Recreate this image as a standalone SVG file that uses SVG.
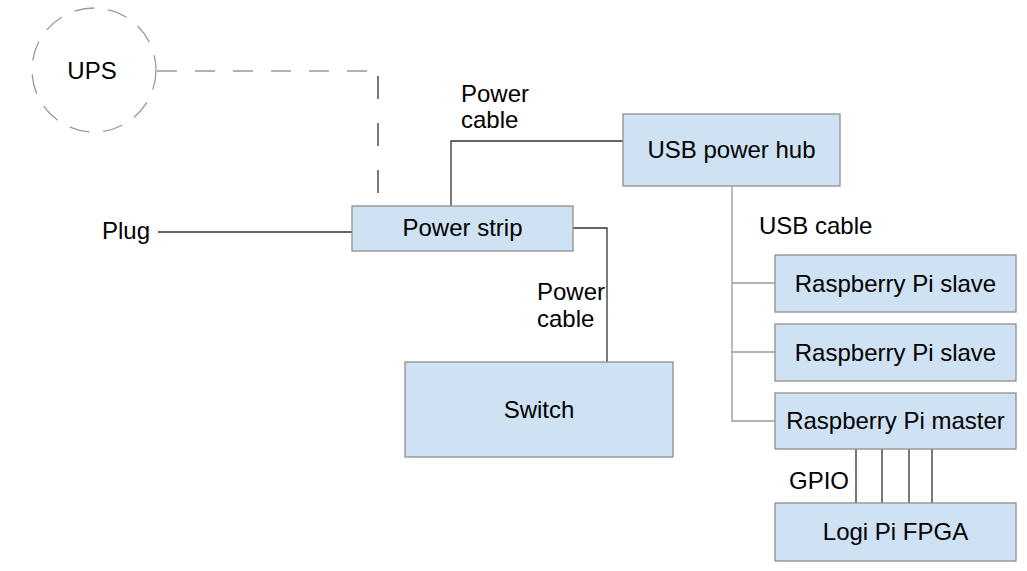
<svg xmlns="http://www.w3.org/2000/svg" width="1027" height="571" viewBox="0 0 1027 571">
<style>
.box{fill:#cfe2f3;stroke:#8f8f8f;stroke-width:1.3}
.t{font-family:"Liberation Sans",Arial,sans-serif;font-size:24px;fill:#000}
.c{text-anchor:middle}
.dk{fill:none;stroke:#333;stroke-width:1.3}
.gr{fill:none;stroke:#999;stroke-width:1.3}
</style>
<rect width="1027" height="571" fill="#fff"/>
<g id="connectors">
<path class="gr" d="M157,71 H378" stroke-dasharray="20 18"/>
<path class="dk" d="M378,76 V206" stroke-dasharray="23 24"/>
<path class="dk" d="M158,232 H352"/>
<path class="dk" d="M451,206 V141 H623"/>
<path class="dk" d="M573,228 H607 V362"/>
<path class="gr" d="M732,186 V421 H775 M732,283 H775 M732,352 H775"/>
<path class="dk" d="M856,449 V503 M882,449 V503 M909,449 V503 M932,449 V503"/>
</g>
<g id="labels">
<text class="t" x="461" y="102">Power</text>
<text class="t" x="461" y="128">cable</text>
<text class="t" x="537" y="300">Power</text>
<text class="t" x="537" y="327">cable</text>
<text class="t" x="759" y="234">USB cable</text>
<text class="t" x="789" y="489">GPIO</text>
<text class="t" x="102" y="239">Plug</text>
</g>
<g id="ups">
<circle cx="94" cy="70" r="62" fill="none" stroke="#999" stroke-width="1.3" stroke-dasharray="20 14"/>
<text class="t c" x="92" y="79">UPS</text>
</g>
<g id="power-strip">
<rect class="box" x="352" y="206" width="221" height="45"/>
<text class="t c" x="462.5" y="236">Power strip</text>
</g>
<g id="usb-hub">
<rect class="box" x="623" y="114" width="217" height="72"/>
<text class="t c" x="731.5" y="158">USB power hub</text>
</g>
<g id="switch">
<rect class="box" x="405" y="362" width="268" height="95"/>
<text class="t c" x="539" y="418">Switch</text>
</g>
<g id="rpi-slave-1">
<rect class="box" x="775" y="255" width="241" height="57"/>
<text class="t c" x="895.5" y="292">Raspberry Pi slave</text>
</g>
<g id="rpi-slave-2">
<rect class="box" x="775" y="324" width="241" height="57"/>
<text class="t c" x="895.5" y="361">Raspberry Pi slave</text>
</g>
<g id="rpi-master">
<rect class="box" x="775" y="393" width="241" height="56"/>
<text class="t c" x="895.5" y="429">Raspberry Pi master</text>
</g>
<g id="fpga">
<rect class="box" x="775" y="503" width="241" height="58"/>
<text class="t c" x="895.5" y="540">Logi Pi FPGA</text>
</g>
</svg>
